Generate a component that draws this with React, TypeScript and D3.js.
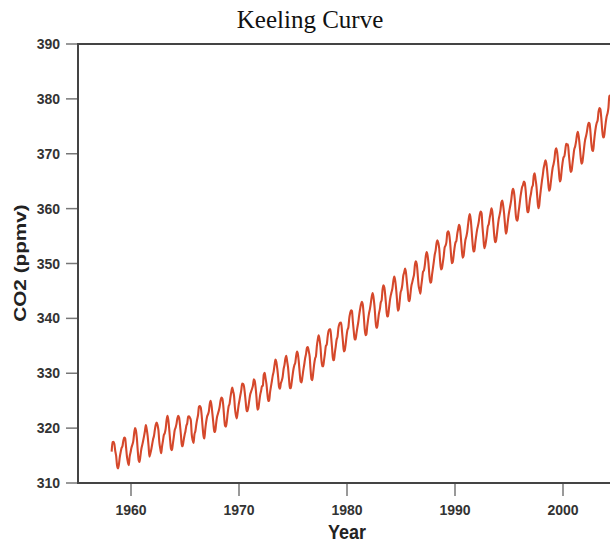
import React, { useRef, useEffect } from "react";
import * as d3 from "d3";

// monthly mean CO2 at Mauna Loa (ppmv), first value = March 1958
const co2_1950s = [
  315.71, 317.45, 317.50, 317.10, 315.86, 314.93, 313.20, 312.66, 313.33, 314.67,
  315.62, 316.38, 316.71, 317.72, 318.29, 318.15, 316.54, 314.80, 313.84, 313.26, 314.80, 315.58,
];
const co2_1960s = [
  316.43, 316.97, 317.58, 319.02, 320.03, 319.59, 318.18, 315.91, 314.16, 313.83, 315.00, 316.19,
  316.93, 317.70, 318.54, 319.48, 320.58, 319.77, 318.57, 316.79, 314.80, 315.38, 316.10, 317.01,
  317.94, 318.56, 319.68, 320.63, 321.01, 320.55, 319.58, 317.40, 316.26, 315.42, 316.69, 317.69,
  318.74, 319.08, 319.86, 321.39, 322.25, 321.47, 319.74, 317.77, 316.21, 315.99, 317.12, 318.31,
  319.57, 320.07, 320.73, 321.77, 322.25, 321.89, 320.44, 318.70, 316.70, 316.79, 317.79, 318.71,
  319.44, 320.44, 320.89, 322.13, 322.16, 321.87, 321.39, 318.81, 317.81, 317.30, 318.87, 319.42,
  320.62, 321.59, 322.39, 323.87, 324.01, 323.75, 322.39, 320.37, 318.64, 318.10, 319.79, 321.08,
  322.07, 322.50, 323.04, 324.42, 325.00, 324.09, 322.55, 320.92, 319.31, 319.31, 320.72, 321.96,
  322.57, 323.15, 323.89, 325.02, 325.57, 325.36, 324.14, 322.03, 320.41, 320.25, 321.31, 322.84,
  324.00, 324.42, 325.64, 326.66, 327.38, 326.70, 325.89, 323.67, 322.38, 321.78, 322.85, 324.11,
];
const co2_1970s = [
  325.03, 325.99, 326.87, 328.13, 328.07, 327.66, 326.35, 324.69, 323.10, 323.16, 323.98, 325.13,
  326.17, 326.68, 327.18, 327.78, 328.92, 328.57, 327.34, 325.46, 323.36, 323.57, 324.80, 326.01,
  326.77, 327.63, 327.75, 329.72, 330.07, 329.09, 328.05, 326.32, 324.93, 325.06, 326.50, 327.55,
  328.54, 329.56, 330.30, 331.50, 332.48, 332.07, 330.87, 329.31, 327.51, 327.18, 328.16, 328.64,
  329.35, 330.71, 331.48, 332.65, 333.19, 332.16, 331.07, 329.12, 327.32, 327.28, 328.30, 329.58,
  330.73, 331.46, 331.90, 333.17, 333.94, 333.45, 331.97, 329.95, 328.50, 328.34, 329.37, 330.58,
  331.59, 332.75, 333.52, 334.64, 334.77, 334.00, 333.06, 330.68, 328.95, 328.75, 330.15, 331.62,
  332.66, 333.13, 334.95, 336.13, 336.93, 336.17, 334.88, 332.56, 331.29, 331.27, 332.41, 333.60,
  334.95, 335.25, 336.66, 337.69, 338.03, 338.01, 336.41, 334.41, 332.37, 332.41, 333.75, 334.90,
  336.14, 336.69, 338.27, 338.95, 339.21, 339.26, 337.54, 335.75, 333.98, 334.19, 335.31, 336.81,
];
const co2_1980s = [
  337.90, 338.34, 340.01, 340.93, 341.48, 341.33, 339.40, 337.70, 336.19, 336.15, 337.27, 338.32,
  339.29, 340.55, 341.61, 342.53, 343.03, 342.54, 340.78, 338.44, 336.95, 337.08, 338.58, 339.88,
  340.96, 341.73, 342.81, 343.97, 344.63, 343.79, 342.32, 340.09, 338.28, 338.29, 339.60, 340.90,
  341.68, 342.90, 343.33, 345.25, 346.03, 345.63, 344.19, 342.27, 340.35, 340.38, 341.59, 343.05,
  344.10, 344.79, 345.52, 346.84, 347.63, 346.98, 345.53, 343.55, 341.40, 341.67, 343.10, 344.70,
  345.21, 346.16, 347.74, 348.34, 349.06, 348.38, 346.72, 345.02, 343.27, 343.13, 344.49, 345.88,
  346.56, 347.28, 348.01, 349.77, 350.38, 349.93, 348.16, 346.08, 345.22, 344.51, 345.93, 347.22,
  348.52, 348.73, 349.73, 351.31, 352.09, 351.53, 350.11, 347.92, 346.52, 346.59, 347.96, 349.16,
  350.39, 351.64, 352.40, 353.69, 354.21, 353.72, 352.69, 350.40, 348.92, 349.13, 350.20, 351.41,
  352.91, 353.27, 353.96, 355.64, 355.86, 355.37, 353.99, 351.81, 350.05, 350.25, 351.49, 352.85,
];
const co2_1990s = [
  353.80, 354.10, 355.40, 356.28, 357.05, 356.55, 354.81, 352.67, 351.05, 351.36, 352.81, 354.22,
  354.85, 355.66, 357.04, 358.40, 359.00, 357.99, 356.00, 353.78, 352.20, 352.22, 353.70, 354.98,
  356.09, 356.85, 357.73, 358.91, 359.45, 359.19, 356.72, 354.79, 352.79, 353.20, 354.15, 355.39,
  356.77, 357.17, 358.26, 359.16, 360.07, 359.41, 357.44, 355.30, 353.87, 354.04, 355.27, 356.70,
  358.00, 358.81, 359.68, 361.13, 361.48, 360.60, 359.20, 357.23, 355.42, 355.89, 357.41, 358.74,
  359.73, 360.61, 361.58, 363.05, 363.62, 363.03, 361.55, 358.94, 357.93, 357.80, 359.22, 360.44,
  361.83, 362.95, 363.91, 364.28, 364.94, 364.70, 363.31, 361.15, 359.40, 359.34, 360.62, 361.96,
  362.81, 363.87, 364.25, 366.02, 366.46, 365.32, 364.07, 361.95, 360.06, 360.49, 362.19, 363.59,
  364.94, 366.07, 367.36, 368.14, 368.82, 368.23, 366.74, 364.94, 363.25, 363.54, 364.81, 366.21,
  367.40, 368.10, 369.04, 370.56, 370.99, 370.28, 368.67, 366.67, 364.94, 365.32, 366.95, 368.34,
];
const co2_2000s = [
  369.31, 369.55, 370.60, 371.82, 371.58, 371.71, 369.86, 368.10, 366.70, 366.90, 368.16, 369.54,
  370.79, 371.33, 372.20, 373.44, 373.98, 373.11, 371.58, 369.65, 368.19, 368.43, 369.69, 371.18,
  372.45, 373.14, 373.93, 375.00, 375.65, 375.50, 374.00, 371.83, 370.66, 370.51, 372.20, 373.71,
  374.87, 375.63, 376.11, 377.65, 378.35, 378.13, 376.62, 374.50, 372.99, 373.00, 374.35, 375.70,
  376.79, 377.37, 378.41, 380.52, 380.63, 379.57, 377.79, 375.86, 374.06, 374.24, 375.86, 377.48,
];

const firstMonth = 1958 + 2 / 12; // March 1958
const yTicks = [310, 320, 330, 340, 350, 360, 370, 380, 390];
const xTicks = [1960, 1970, 1980, 1990, 2000];

const App = () => {
  const svgRef = useRef(null);
  const width = 610;
  const height = 544;

  const co2 = [...co2_1950s, ...co2_1960s, ...co2_1970s, ...co2_1980s, ...co2_1990s, ...co2_2000s];

  const x = d3.scaleLinear().domain([1960, 2000]).range([131, 563]);
  const y = d3.scaleLinear().domain([310, 390]).range([483, 44]);
  const left = 78;
  const right = 640; // plot runs past the cropped edge

  useEffect(() => {
    document.body.style.margin = "0";
    const svg = d3.select(svgRef.current);
    svg.selectAll("*").remove();

    svg.append("rect").attr("width", width).attr("height", height).attr("fill", "#fff");

    // title
    svg.append("text")
      .attr("x", 310)
      .attr("y", 28)
      .attr("text-anchor", "middle")
      .style("font-family", "'Liberation Serif', 'Times New Roman', serif")
      .style("font-size", "25px")
      .style("fill", "#111")
      .text("Keeling Curve");

    // the curve
    const line = d3.line()
      .x((d, i) => x(firstMonth + i / 12 + 1 / 24))
      .y(d => y(d))
      .curve(d3.curveMonotoneX);

    svg.append("path")
      .datum(co2)
      .attr("d", line)
      .style("fill", "none")
      .style("stroke", "#d5482b")
      .style("stroke-width", 2.1)
      .style("stroke-linejoin", "round");

    // y ticks
    const gy = svg.append("g");
    gy.selectAll("line")
      .data(yTicks)
      .enter()
      .append("line")
      .attr("x1", left - 12)
      .attr("x2", left)
      .attr("y1", d => y(d))
      .attr("y2", d => y(d))
      .style("stroke", "#777")
      .style("stroke-width", 1.5);
    gy.selectAll("text")
      .data(yTicks)
      .enter()
      .append("text")
      .attr("x", 60)
      .attr("y", d => y(d))
      .attr("dy", "0.36em")
      .attr("text-anchor", "end")
      .style("font-family", "'Liberation Sans', Arial, sans-serif")
      .style("font-weight", "bold")
      .style("font-size", "14px")
      .style("fill", "#333")
      .text(d => d);

    // x ticks
    const gx = svg.append("g");
    gx.selectAll("line")
      .data(xTicks)
      .enter()
      .append("line")
      .attr("x1", d => x(d))
      .attr("x2", d => x(d))
      .attr("y1", y(310))
      .attr("y2", y(310) + 13)
      .style("stroke", "#777")
      .style("stroke-width", 1.5);
    gx.selectAll("text")
      .data(xTicks)
      .enter()
      .append("text")
      .attr("x", d => x(d))
      .attr("y", 515)
      .attr("text-anchor", "middle")
      .style("font-family", "'Liberation Sans', Arial, sans-serif")
      .style("font-weight", "bold")
      .style("font-size", "14px")
      .style("fill", "#333")
      .text(d => d);

    // frame
    svg.append("path")
      .attr("d", `M${right},${y(390)}H${left}V${y(310)}H${right}`)
      .style("fill", "none")
      .style("stroke", "#444")
      .style("stroke-width", 2);

    // axis titles
    svg.append("text")
      .attr("transform", `translate(347,539) scale(0.9,1)`)
      .attr("text-anchor", "middle")
      .style("font-family", "'Liberation Sans', Arial, sans-serif")
      .style("font-weight", "bold")
      .style("font-size", "20px")
      .style("fill", "#222")
      .text("Year");

    svg.append("text")
      .attr("transform", `translate(26,263) rotate(-90) scale(1.22,1)`)
      .attr("text-anchor", "middle")
      .style("font-family", "'Liberation Sans', Arial, sans-serif")
      .style("font-weight", "bold")
      .style("font-size", "17px")
      .style("fill", "#222")
      .text("CO2 (ppmv)");
  }, []);

  return (
    <div>
      <svg ref={svgRef} width={width} height={height} style={{ display: "block" }}></svg>
    </div>
  );
};

export default App;
